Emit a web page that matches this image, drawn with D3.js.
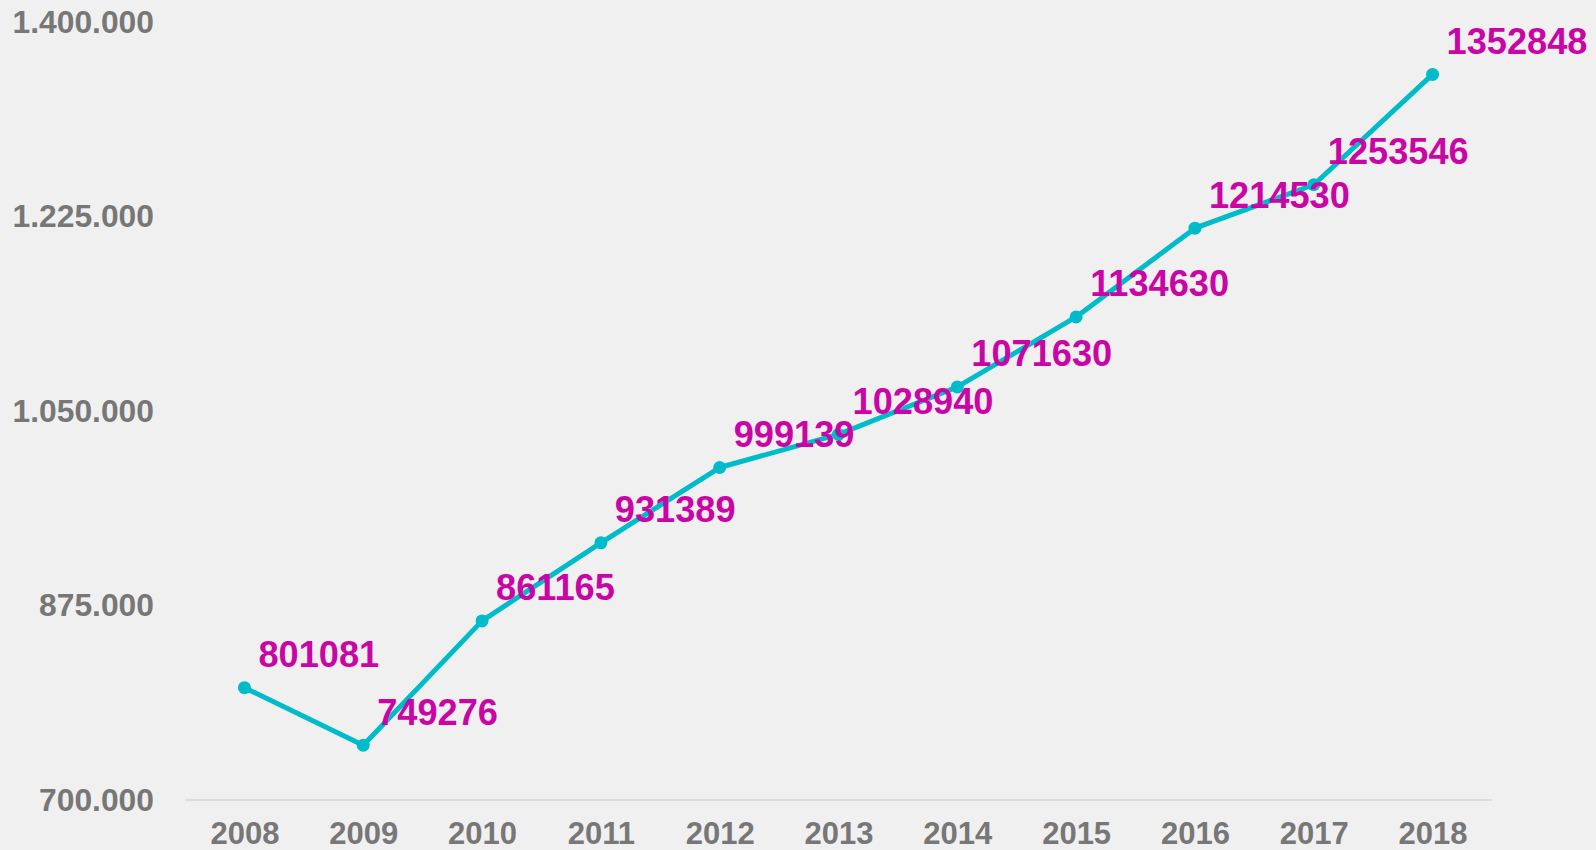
<!DOCTYPE html>
<html>
<head>
<meta charset="utf-8">
<script src="https://cdn.jsdelivr.net/npm/d3@7/dist/d3.min.js"></script>
<style>
  html, body { margin: 0; padding: 0; background: #f0f0f0; }
  svg { display: block; font-family: "Liberation Sans", Arial, sans-serif; }
</style>
</head>
<body>
<div id="chart"></div>
<script>
// data
const years = ['2008', '2009', '2010', '2011', '2012', '2013', '2014', '2015', '2016', '2017', '2018'];
const values = [801081, 749276, 861165, 931389, 999139, 1028940, 1071630, 1134630, 1214530, 1253546, 1352848];
const yTicks = [700000, 875000, 1050000, 1225000, 1400000];
const yTickLabels = ['700.000', '875.000', '1.050.000', '1.225.000', '1.400.000'];

const width = 1596, height = 850;

const svg = d3.select('#chart')
    .append('svg')
    .attr('width', width)
    .attr('height', height);

svg.append('rect').attr('width', width).attr('height', height).attr('fill', '#f0f0f0');

const x = d3.scalePoint()
    .domain(years)
    .range([185, 1492])
    .padding(0.5);

const y = d3.scaleLinear()
    .domain([700000, 1400000])
    .range([800, 22]);

// y axis labels
const yAxis = svg.append('g')
    .attr('transform', 'translate(154,0)')
    .call(d3.axisLeft(y).tickValues(yTicks).tickFormat((d, i) => yTickLabels[i]).tickSize(0).tickPadding(0));
yAxis.select('.domain').remove();
yAxis.selectAll('text')
    .attr('fill', '#777')
    .attr('font-size', 31.8)
    .attr('font-weight', 'bold')
    .attr('font-family', '"Liberation Sans", Arial, sans-serif');

// baseline
svg.append('line')
    .attr('x1', 185).attr('x2', 1492)
    .attr('y1', y(700000)).attr('y2', y(700000))
    .attr('stroke', '#dcdcdc')
    .attr('stroke-width', 2);

// x axis labels
const xAxis = svg.append('g')
    .attr('transform', 'translate(0,' + y(700000) + ')')
    .call(d3.axisBottom(x).tickSize(0).tickPadding(22));
xAxis.select('.domain').remove();
xAxis.selectAll('text')
    .attr('fill', '#777')
    .attr('font-size', 31)
    .attr('font-weight', 'bold')
    .attr('font-family', '"Liberation Sans", Arial, sans-serif');

const pts = years.map((d, i) => ({ year: d, value: values[i] }));

const line = d3.line()
    .x(d => x(d.year))
    .y(d => y(d.value));

svg.append('path')
    .datum(pts)
    .attr('d', line)
    .attr('fill', 'none')
    .attr('stroke', '#00bccb')
    .attr('stroke-width', 5)
    .attr('stroke-linejoin', 'round');

svg.selectAll('circle.pt')
    .data(pts)
    .enter()
    .append('circle')
    .attr('class', 'pt')
    .attr('cx', d => x(d.year))
    .attr('cy', d => y(d.value))
    .attr('r', 6.5)
    .attr('fill', '#00bccb');

svg.selectAll('text.lbl')
    .data(pts)
    .enter()
    .append('text')
    .attr('class', 'lbl')
    .attr('x', d => x(d.year) + 14)
    .attr('y', d => y(d.value) - 20.5)
    .attr('fill', '#c905a6')
    .attr('font-size', 36.2)
    .attr('font-weight', 'bold')
    .text(d => d.value);
</script>
</body>
</html>
